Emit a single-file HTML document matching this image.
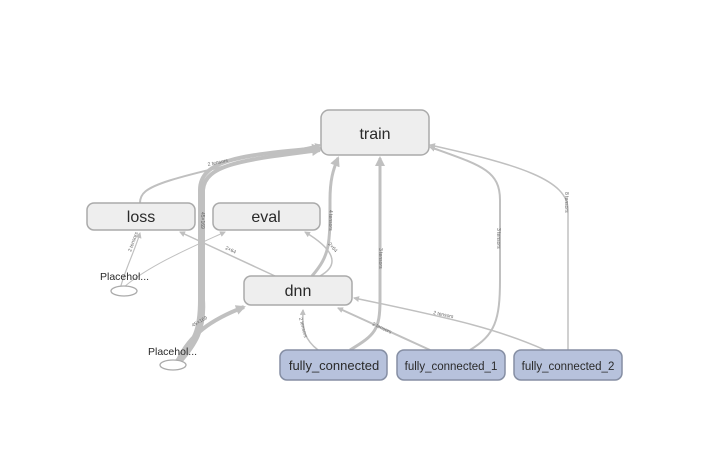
<!DOCTYPE html>
<html><head><style>
html,body{margin:0;padding:0;background:#fff;}
svg{display:block;font-family:"Liberation Sans",sans-serif;}
.n{fill:#eeeeee;stroke:#aaaaaa;stroke-width:1.5;}
.f{fill:#b7c2dc;stroke:#858ea3;stroke-width:1.5;}
.e{fill:none;stroke:#c0c0c0;}
.lbl{font-size:5px;fill:#666;}
</style></head><body>
<svg width="717" height="453" viewBox="0 0 717 453">
<defs>
<marker id="a" markerWidth="6" markerHeight="6" refX="5" refY="3" orient="auto" markerUnits="userSpaceOnUse"><path d="M0,0L6,3L0,6z" fill="#c0c0c0"/></marker>
<marker id="b" markerWidth="10" markerHeight="10" refX="8" refY="5" orient="auto" markerUnits="userSpaceOnUse"><path d="M0,0L10,5L0,10z" fill="#c0c0c0"/></marker>
</defs>
<path class="e" stroke-width="2" d="M140,203 C140,185 160,180 320,145" marker-end="url(#a)"/>
<path class="e" stroke-width="4" d="M176,362 C195,340 200,330 200,300 L200,190 C200,160 240,155 320,148" marker-end="url(#b)"/>
<path class="e" stroke-width="4" d="M180,362 C195,345 205,330 203,300 L203,190 C205,165 240,160 320,150" marker-end="url(#b)"/>
<path class="e" stroke-width="4" d="M178,360 C190,335 210,320 244,307" marker-end="url(#b)"/>
<path class="e" stroke-width="1.5" d="M275,276 L180,232" marker-end="url(#a)"/>
<path class="e" stroke-width="1.5" d="M320,276 C340,265 335,250 305,232" marker-end="url(#a)"/>
<path class="e" stroke-width="3" d="M312,276 C330,255 330,245 330,200 C330,180 333,170 338,158" marker-end="url(#b)"/>
<path class="e" stroke-width="3" d="M350,350 C375,335 380,330 380,300 L380,158" marker-end="url(#b)"/>
<path class="e" stroke-width="1.5" d="M318,350 C305,340 302,330 303,310" marker-end="url(#a)"/>
<path class="e" stroke-width="2" d="M430,350 L338,308" marker-end="url(#a)"/>
<path class="e" stroke-width="1.5" d="M545,350 C500,330 460,320 354,298" marker-end="url(#a)"/>
<path class="e" stroke-width="2" d="M470,350 C495,335 500,320 500,280 L500,200 C500,170 480,165 430,147" marker-end="url(#a)"/>
<path class="e" stroke-width="1.5" d="M568,350 L568,210 C568,180 520,165 430,145" marker-end="url(#a)"/>
<path class="e" stroke-width="1.2" d="M120,289 C125,270 135,250 140,233" marker-end="url(#a)"/>
<path class="e" stroke-width="1" d="M124,287 C150,265 190,248 225,232" marker-end="url(#a)"/>
<text class="lbl" x="208" y="166" transform="rotate(-12 208 166)">2 tensors</text>
<text class="lbl" x="201" y="212" transform="rotate(90 201 212)">45×169</text>
<text class="lbl" x="329" y="210" transform="rotate(90 329 210)">4 tensors</text>
<text class="lbl" x="379" y="248" transform="rotate(90 379 248)">3 tensors</text>
<text class="lbl" x="497" y="228" transform="rotate(90 497 228)">3 tensors</text>
<text class="lbl" x="565" y="192" transform="rotate(90 565 192)">8 tensors</text>
<text class="lbl" x="225" y="249" transform="rotate(25 225 249)">2×64</text>
<text class="lbl" x="328" y="244" transform="rotate(50 328 244)">2×64</text>
<text class="lbl" x="433" y="314" transform="rotate(12 433 314)">2 tensors</text>
<text class="lbl" x="372" y="325" transform="rotate(25 372 325)">2 tensors</text>
<text class="lbl" x="299" y="318" transform="rotate(75 299 318)">2 tensors</text>
<text class="lbl" x="131" y="252" transform="rotate(-70 131 252)">2 tensors</text>
<text class="lbl" x="193" y="327" transform="rotate(-30 193 327)">45×169</text>
<rect class="n" x="321" y="110" width="108" height="45" rx="8"/>
<text x="375" y="139" font-size="16" fill="#2a2a2a" text-anchor="middle">train</text>
<rect class="n" x="87" y="203" width="108" height="27" rx="7"/>
<text x="141" y="222" font-size="16" fill="#2a2a2a" text-anchor="middle">loss</text>
<rect class="n" x="213" y="203" width="107" height="27" rx="7"/>
<text x="266" y="222" font-size="16" fill="#2a2a2a" text-anchor="middle">eval</text>
<rect class="n" x="244" y="276" width="108" height="29" rx="7"/>
<text x="298" y="296" font-size="16" fill="#2a2a2a" text-anchor="middle">dnn</text>
<rect class="f" x="280" y="350" width="107" height="30" rx="7"/>
<text x="334" y="370" font-size="13" fill="#2a2a2a" text-anchor="middle">fully_connected</text>
<rect class="f" x="397" y="350" width="108" height="30" rx="7"/>
<text x="451" y="370" font-size="11.5" fill="#2a2a2a" text-anchor="middle">fully_connected_1</text>
<rect class="f" x="514" y="350" width="108" height="30" rx="7"/>
<text x="568" y="370" font-size="11.5" fill="#2a2a2a" text-anchor="middle">fully_connected_2</text>
<ellipse cx="124" cy="291" rx="13" ry="5" fill="#fff" stroke="#aaa" stroke-width="1.3"/>
<text x="100" y="280" font-size="10.5" fill="#2a2a2a">Placehol...</text>
<ellipse cx="173" cy="365" rx="13" ry="5" fill="#fff" stroke="#aaa" stroke-width="1.3"/>
<text x="148" y="355" font-size="10.5" fill="#2a2a2a">Placehol...</text>
</svg>
</body></html>
